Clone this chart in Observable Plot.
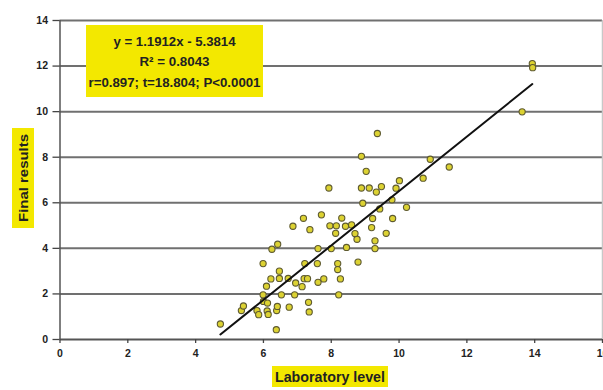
<!DOCTYPE html>
<html>
<head>
<meta charset="utf-8">
<script src="https://cdn.jsdelivr.net/npm/d3@7"></script>
<script src="https://cdn.jsdelivr.net/npm/@observablehq/plot@0.6"></script>
<style>
  html, body { margin: 0; padding: 0; background: #fff; }
  #chart { width: 603px; height: 390px; }
  svg { font-family: "Liberation Sans", Arial, sans-serif; }
</style>
</head>
<body>
<div id="chart"></div>
<script>
// Laboratory level (x) and Final results (y)
const labLevel = [4.73,5.35,5.41,5.81,5.86,5.99,6.00,6.12,6.11,6.14,6.39,6.38,6.41,6.76,6.53,6.92,7.35,7.33,
  6.09,6.22,6.47,6.73,6.47,6.95,7.14,7.20,7.30,7.61,7.78,8.27,8.22,5.99,7.22,7.59,8.19,8.19,8.79,
  6.25,6.42,7.61,8.00,8.45,9.29,9.29,8.76,8.70,8.13,9.62,9.19,6.87,7.37,7.96,8.15,8.42,8.60,
  7.18,7.71,8.31,9.22,9.81,8.93,9.79,9.43,10.22,7.93,8.89,9.12,9.33,9.48,9.91,10.01,10.71,
  9.03,8.89,9.36,10.92,11.48,13.63,13.93,13.94];
const finalResults = [0.68,1.27,1.47,1.27,1.09,1.96,1.67,1.60,1.25,1.10,1.27,0.43,1.45,1.42,1.96,1.96,1.21,1.63,
  2.34,2.66,2.68,2.68,3.00,2.48,2.32,2.67,2.67,2.51,2.66,2.66,1.96,3.33,3.33,3.33,3.33,3.07,3.40,
  3.96,4.18,3.99,3.99,4.04,3.99,4.33,4.40,4.65,4.66,4.66,4.91,4.97,4.82,4.99,4.99,4.97,5.03,
  5.32,5.47,5.33,5.31,5.31,5.98,6.13,5.73,5.80,6.65,6.65,6.65,6.47,6.71,6.64,6.97,7.08,
  7.38,8.04,9.04,7.91,7.57,9.99,12.11,11.93];

// Trend line end points as drawn
const trendX = [4.73, 13.93];
const trendY = [0.22, 11.21];

const xTicks = [0, 2, 4, 6, 8, 10, 12, 14, 16];
const yTicks = [0, 2, 4, 6, 8, 10, 12, 14];
const gridY = [2, 4, 6, 8, 10, 12, 14];

const statLines = ["y = 1.1912x - 5.3814", "R² = 0.8043", "r=0.897; t=18.804; P<0.0001"];
const xTitle = "Laboratory level";
const yTitle = "Final results";

const points = labLevel.map((x, i) => ({x, y: finalResults[i]}));
const trend = trendX.map((x, i) => ({x, y: trendY[i]}));

const plot = Plot.plot({
  width: 603,
  height: 390,
  marginLeft: 59.5,
  marginRight: 1,
  marginTop: 20,
  marginBottom: 51,
  style: {background: "#fff", fontFamily: "Liberation Sans, Arial, sans-serif"},
  x: {domain: [0, 16]},
  y: {domain: [0, 14]},
  marks: [
    Plot.ruleY(gridY, {stroke: "#707070", strokeWidth: 2}),
    Plot.ruleX([16], {stroke: "#c8c8c8", strokeWidth: 1.5}),
    Plot.ruleX([0], {stroke: "#555", strokeWidth: 1.5}),
    Plot.ruleY([0], {stroke: "#555", strokeWidth: 2}),
    Plot.axisY({ticks: yTicks, tickSize: 7, tickPadding: 5, stroke: "#444", strokeWidth: 1.3,
      fill: "#222", fontSize: 10.5, fontWeight: "bold", label: null}),
    Plot.axisX({ticks: xTicks, tickSize: 4, tickPadding: 6, stroke: "#444", strokeWidth: 1.3,
      fill: "#222", fontSize: 10.5, fontWeight: "bold", label: null}),
    Plot.dot(points, {x: "x", y: "y", symbol: "circle", r: 3.1, fill: "#dcd232", stroke: "#5e5a30", strokeWidth: 1.1}),
    Plot.line(trend, {x: "x", y: "y", stroke: "#111", strokeWidth: 2})
  ]
});
document.getElementById("chart").appendChild(plot);

const svg = d3.select(plot);
// statistics box
const box = svg.append("g");
box.append("rect").attr("x", 86).attr("y", 25).attr("width", 177).attr("height", 72).attr("fill", "#f3e800");
box.selectAll("text").data(statLines).join("text")
  .attr("x", 174.5).attr("y", (d, i) => 45.5 + i * 20.7)
  .attr("text-anchor", "middle").attr("font-size", 13).attr("font-weight", "bold").attr("fill", "#222")
  .attr("textLength", (d, i) => [122, 70, 172][i]).attr("lengthAdjust", "spacingAndGlyphs")
  .text(d => d);

// x title
const xt = svg.append("g");
xt.append("rect").attr("x", 272).attr("y", 366).attr("width", 116).attr("height", 21).attr("fill", "#f3e800");
xt.append("text").attr("x", 330).attr("y", 382).attr("text-anchor", "middle")
  .attr("font-size", 14).attr("font-weight", "bold").attr("fill", "#222")
  .attr("textLength", 110).attr("lengthAdjust", "spacingAndGlyphs").text(xTitle);

// y title
const yt = svg.append("g").attr("transform", "translate(23,178) rotate(-90)");
yt.append("rect").attr("x", -50).attr("y", -11).attr("width", 100).attr("height", 22).attr("fill", "#f3e800");
yt.append("text").attr("x", 0).attr("y", 4.5).attr("text-anchor", "middle")
  .attr("font-size", 13).attr("font-weight", "bold").attr("fill", "#222")
  .attr("textLength", 88).attr("lengthAdjust", "spacingAndGlyphs").text(yTitle);
</script>
</body>
</html>
